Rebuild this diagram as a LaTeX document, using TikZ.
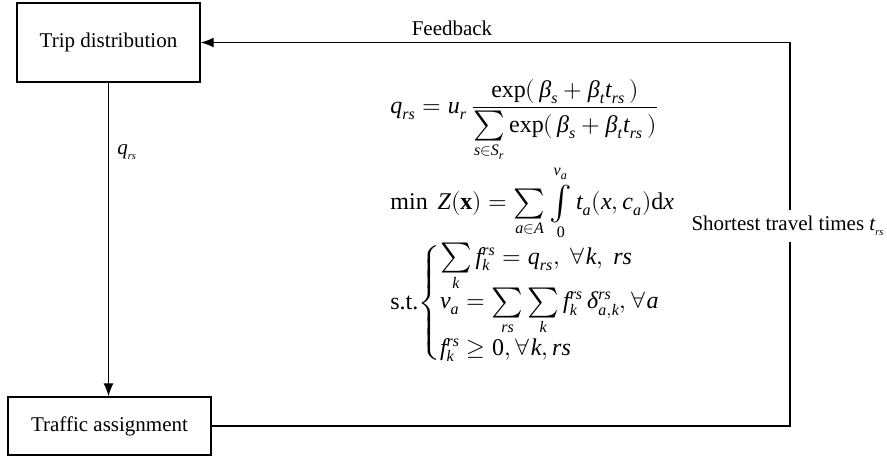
\documentclass[tikz,border=0pt]{standalone}
\usepackage{amsmath}
\usepackage{fontspec}
\usepackage{unicode-math}
\setmainfont{Liberation Serif}
\setmathfont{Latin Modern Math}
\setmathfont{Liberation Serif Italic}[range={it/{latin,Latin,greek,Greek}}]
\setmathfont{Liberation Serif}[range={up/{num}}]
\setmathrm{Liberation Serif}
\usetikzlibrary{arrows.meta}
\newcommand{\midint}{\mathop{\vcenter{\hbox{\fontsize{17}{17}\selectfont$\int$}}}\limits}
\newcommand{\midsum}{\mathop{\vcenter{\hbox{\fontsize{15}{15}\selectfont$\sum$}}}\limits}
\begin{document}
\begin{tikzpicture}[x=0.5pt,y=-0.5pt,
  box/.style={draw,line width=0.7pt,minimum width=#1,inner sep=0pt},
  conn/.style={line width=0.6pt},
  arr/.style={conn,-{Latex[length=6.5pt,width=5pt]}},
  lbl/.style={inner sep=1pt},
  fml/.style={inner sep=1pt,anchor=west,font=\fontsize{12}{14}\selectfont},
  every node/.style={font=\fontsize{10.5}{12}\selectfont}]
\useasboundingbox (0,0) rectangle (887,457);
\node[box=91.5pt,minimum height=39.5pt] (td) at (108.5,42.5) {Trip distribution};
\node[box=101.5pt,minimum height=29pt] (ta) at (109.5,426) {Traffic assignment};
\coordinate (cR) at (790,426);
\coordinate (cT) at (790,42.5);
\draw[arr] (td.south) -- (td.south |- ta.north);
\draw[arr] (ta.east) -- (cR) -- (cT) -- (td.east);
\node[lbl,anchor=west] (q) at (115,152) {$q_{\scriptscriptstyle rs}$};
\node[lbl] (fb) at (452,28) {Feedback};
\node[lbl,fill=white,inner ysep=3pt] (st) at (788,226) {Shortest travel times $t_{\scriptscriptstyle rs}$};
\node[fml] (f1) at (388,121) {$q_{rs} = u_r\,\dfrac{\exp(\,\beta_s+\beta_t t_{rs}\,)}{\midsum_{s\in S_r}\exp(\,\beta_s+\beta_t t_{rs}\,)}$};
\node[fml] (f2) at (388,203) {$\min\ Z(\mathbf{x}) = \midsum_{a\in A}\midint_0^{v_a} t_a(x,c_a)\mathrm{d}x$};
\node[fml] (f3) at (388,303) {s.t.$\begin{cases}\midsum_k f_k^{rs} = q_{rs},\ \forall k,\ rs\\[-3pt] v_a=\midsum_{rs}\midsum_k f_k^{rs}\,\delta_{a,k}^{rs},\forall a\\[-2pt] f_k^{rs}\geq 0,\forall k,rs\end{cases}$};
\end{tikzpicture}
\end{document}
